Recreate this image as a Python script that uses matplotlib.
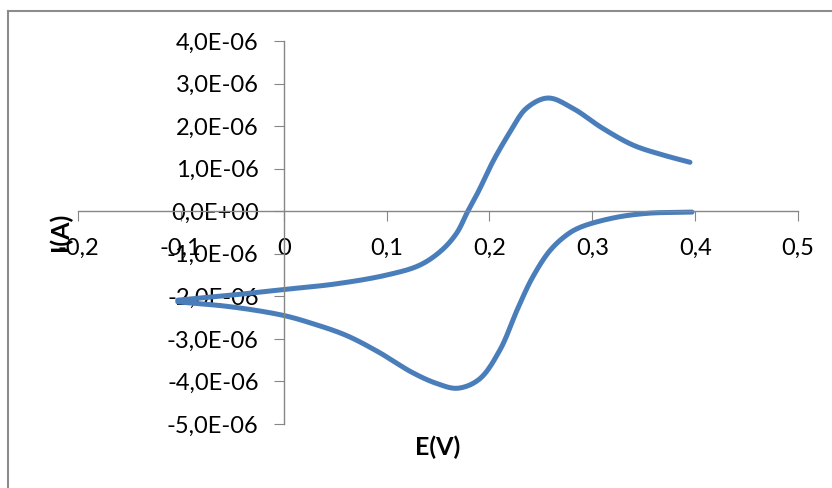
import numpy as np
import matplotlib.pyplot as plt
from matplotlib.lines import Line2D
from matplotlib.ticker import FixedLocator

# potential (V) and current (A)
# forward scan (upper branch), -0.1 V -> 0.4 V
e_fwd = [-0.103, -0.05, 0.0, 0.05, 0.1, 0.132, 0.153, 0.168, 0.179, 0.189,
         0.203, 0.22, 0.236, 0.257, 0.281, 0.31, 0.34, 0.369, 0.395]
i_fwd = [-2.09e-6, -1.97e-6, -1.84e-6, -1.71e-6, -1.50e-6, -1.27e-6, -0.93e-6,
         -0.52e-6, 0.0, 0.45e-6, 1.15e-6, 1.86e-6, 2.42e-6, 2.66e-6, 2.42e-6,
         1.95e-6, 1.55e-6, 1.32e-6, 1.15e-6]
# reverse scan (lower branch), 0.4 V -> -0.1 V
e_rev = [0.397, 0.353, 0.32, 0.288, 0.275, 0.259, 0.242, 0.228, 0.21, 0.19,
         0.169, 0.149, 0.125, 0.093, 0.061, 0.028, 0.0, -0.05, -0.103]
i_rev = [-0.02e-6, -0.05e-6, -0.16e-6, -0.38e-6, -0.56e-6, -0.92e-6, -1.55e-6,
         -2.26e-6, -3.27e-6, -3.95e-6, -4.16e-6, -4.05e-6, -3.79e-6, -3.32e-6,
         -2.92e-6, -2.64e-6, -2.45e-6, -2.25e-6, -2.13e-6]

x_ticks = [-0.2, -0.1, 0, 0.1, 0.2, 0.3, 0.4, 0.5]
y_ticks = [4e-6, 3e-6, 2e-6, 1e-6, 0, -1e-6, -2e-6, -3e-6, -4e-6, -5e-6]


def smooth(xs, ys, n=20):
    # centripetal catmull-rom, done on roughly screen-scaled values
    sx, sy = 1028.0, 42.5e6
    p = np.column_stack([np.asarray(xs) * sx, np.asarray(ys) * sy])
    p = np.vstack([2 * p[0] - p[1], p, 2 * p[-1] - p[-2]])
    out = []
    for k in range(1, len(p) - 2):
        p0, p1, p2, p3 = p[k - 1], p[k], p[k + 1], p[k + 2]
        t0 = 0.0
        t1 = t0 + np.linalg.norm(p1 - p0) ** 0.5
        t2 = t1 + np.linalg.norm(p2 - p1) ** 0.5
        t3 = t2 + np.linalg.norm(p3 - p2) ** 0.5
        for t in np.linspace(t1, t2, n, endpoint=False):
            a1 = (t1 - t) / (t1 - t0) * p0 + (t - t0) / (t1 - t0) * p1
            a2 = (t2 - t) / (t2 - t1) * p1 + (t - t1) / (t2 - t1) * p2
            a3 = (t3 - t) / (t3 - t2) * p2 + (t - t2) / (t3 - t2) * p3
            b1 = (t2 - t) / (t2 - t0) * a1 + (t - t0) / (t2 - t0) * a2
            b2 = (t3 - t) / (t3 - t1) * a2 + (t - t1) / (t3 - t1) * a3
            out.append((t2 - t) / (t2 - t1) * b1 + (t - t1) / (t2 - t1) * b2)
    out.append(p[-2])
    out = np.array(out)
    return out[:, 0] / sx, out[:, 1] / sy


plt.rcParams['font.family'] = ['Lato', 'DejaVu Sans']

fig = plt.figure(figsize=(8.32, 4.88), dpi=100)
ax = fig.add_axes([78 / 832, 1 - 424 / 488, 720 / 832, 383 / 488])

for ex, iy in ((e_fwd, i_fwd), (e_rev, i_rev)):
    sx, sy = smooth(ex, iy)
    ax.plot(sx, sy, color='#4a7ebb', lw=3.6, solid_capstyle='round')

ax.set_xlim(-0.2, 0.5)
ax.set_ylim(-5e-6, 4e-6)
ax.spines['left'].set_position(('data', 0))
ax.spines['bottom'].set_position(('data', 0))
ax.spines['right'].set_visible(False)
ax.spines['top'].set_visible(False)
for s in ('left', 'bottom'):
    ax.spines[s].set_color('#868686')
    ax.spines[s].set_linewidth(1.0)

ax.xaxis.set_major_locator(FixedLocator(x_ticks))
ax.yaxis.set_major_locator(FixedLocator(y_ticks))
ax.set_xticklabels([('%g' % v).replace('.', ',') for v in x_ticks])
ax.set_yticklabels([('%.1E' % v).replace('.', ',') for v in y_ticks])
ax.tick_params(axis='both', direction='out', length=7, color='#868686',
               labelsize=17, labelcolor='black')
ax.tick_params(axis='x', pad=12)
ax.tick_params(axis='y', pad=11)

fig.text(60 / 832, 1 - 232 / 488, 'I(A)', rotation=90, ha='center', va='center',
         fontsize=18, fontweight='bold')
fig.text(438 / 832, 1 - 447 / 488, 'E(V)', ha='center', va='center',
         fontsize=18, fontweight='bold')

# chart area border (only top and left fall inside the image)
fig.add_artist(Line2D([8 / 832, 8 / 832], [0, 1 - 11 / 488], color='#8c8c8c', lw=1.5))
fig.add_artist(Line2D([8 / 832, 1], [1 - 11 / 488, 1 - 11 / 488], color='#8c8c8c', lw=1.5))

fig.savefig('out.png', dpi=100)
